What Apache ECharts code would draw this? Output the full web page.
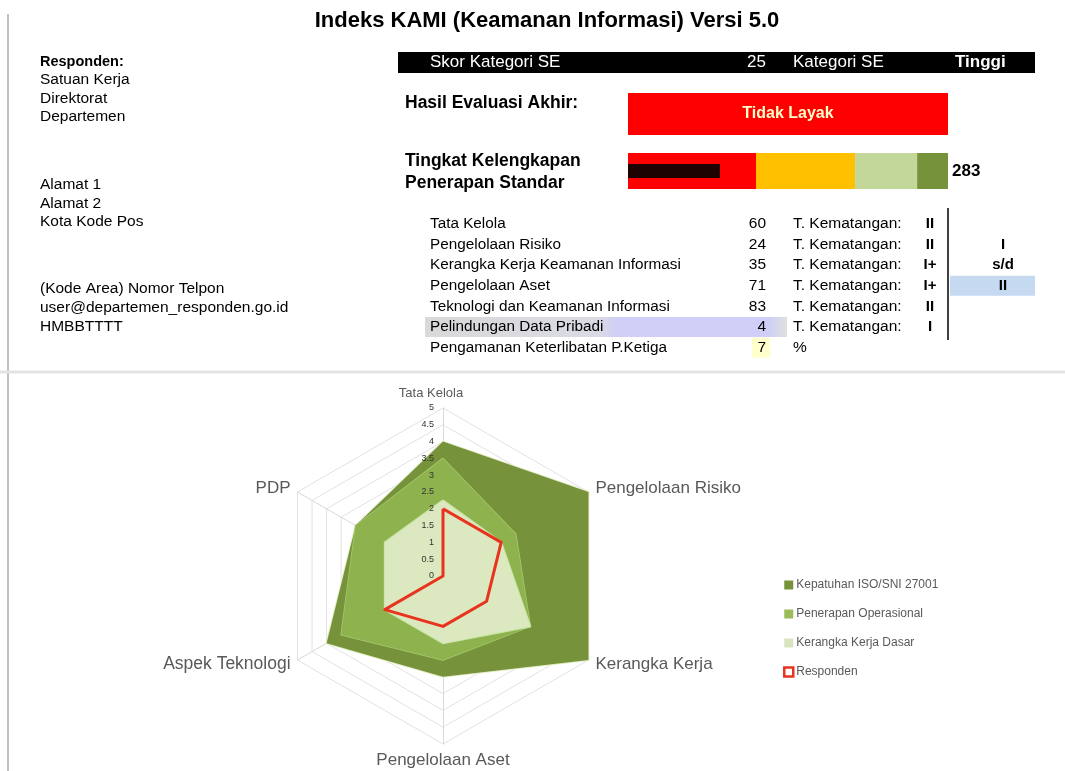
<!DOCTYPE html>
<html><head><meta charset="utf-8">
<script src="https://cdn.jsdelivr.net/npm/echarts@6/dist/echarts.min.js"></script>
<style>html,body{margin:0;padding:0;background:#fff}#c{width:1065px;height:771px}</style>
</head><body><div id="c"></div>
<script>
// ---------- data ----------
const title = 'Indeks KAMI (Keamanan Informasi) Versi 5.0';
const respondenLabel = 'Responden:';
const respondenInfo = ['Satuan Kerja', 'Direktorat', 'Departemen'];
const alamat = ['Alamat 1', 'Alamat 2', 'Kota Kode Pos'];
const kontak = ['(Kode Area) Nomor Telpon', 'user@departemen_responden.go.id', 'HMBBTTTT'];
const skorKategoriSE = 25;
const kategoriSE = 'Tinggi';
const hasilEvaluasi = 'Tidak Layak';
const skorTotal = 283;
const bandBatas = [394, 699, 890, 985];          // upper bounds of the score bands
const areaNames = ['Tata Kelola', 'Pengelolaan Risiko', 'Kerangka Kerja Keamanan Informasi', 'Pengelolaan Aset',
  'Teknologi dan Keamanan Informasi', 'Pelindungan Data Pribadi', 'Pengamanan Keterlibatan P.Ketiga'];
const areaSkor = [60, 24, 35, 71, 83, 4, 7];
const areaKematangan = ['II', 'II', 'I+', 'I+', 'II', 'I'];
const rentangKematangan = ['I', 's/d', 'II'];
const radarCategories = ['Tata Kelola', 'Pengelolaan Risiko', 'Kerangka Kerja', 'Pengelolaan Aset', 'Aspek Teknologi', 'PDP'];
const radarMax = 5;
const kepatuhanISO = [4, 5, 5, 3, 4, 3];
const penerapanOperasional = [3.5, 2.5, 3, 2.5, 3.5, 3];
const kerangkaKerjaDasar = [2.25, 2, 3, 2, 2, 2];
const responden = [2, 2, 1.5, 1.5, 2, 0];
const seriesNames = ['Kepatuhan ISO/SNI 27001', 'Penerapan Operasional', 'Kerangka Kerja Dasar', 'Responden'];

// ---------- helpers ----------
const FONT = '"Liberation Sans", Arial, sans-serif';
function T(text, x, y, o) {
  o = o || {};
  return { type: 'text', z: 10, style: {
    text: String(text), x: x, y: y,
    font: (o.bold ? 'bold ' : '') + (o.size || 14) + 'px ' + FONT,
    fill: o.color || '#000',
    align: o.align || 'left', textAlign: o.align || 'left',
    verticalAlign: 'middle', textVerticalAlign: 'middle'
  }};
}
function R(x, y, w, h, fill, z) {
  return { type: 'rect', z: z == null ? 1 : z, shape: { x: x, y: y, width: w, height: h }, style: { fill: fill } };
}
function L(x1, y1, x2, y2, color, w) {
  return { type: 'line', z: 2, shape: { x1: x1, y1: y1, x2: x2, y2: y2 }, style: { stroke: color, lineWidth: w } };
}

const g = [];
// frame lines
g.push(L(8, 14, 8, 771, '#BFBFBF', 2));
g.push(L(0, 372, 1065, 372, '#E3E3E3', 3));
// title
g.push(T(title, 547, 21, { bold: true, size: 22, align: 'center' }));
// left block
g.push(T(respondenLabel, 40, 62, { bold: true, size: 14.5 }));
respondenInfo.forEach((s, i) => g.push(T(s, 40, 80 + i * 18.5, { size: 15.5 })));
alamat.forEach((s, i) => g.push(T(s, 40, 185 + i * 18.5, { size: 15.5 })));
kontak.forEach((s, i) => g.push(T(s, 40, 289 + i * 19, { size: 15.5 })));
// black header bar
g.push(R(398, 52, 637, 21, '#000'));
g.push(T('Skor Kategori SE', 430, 62.5, { size: 17, color: '#fff' }));
g.push(T(skorKategoriSE, 766, 62.5, { size: 17, color: '#fff', align: 'right' }));
g.push(T('Kategori SE', 793, 62.5, { size: 17, color: '#fff' }));
g.push(T(kategoriSE, 955, 62.5, { size: 17, color: '#fff', bold: true }));
// evaluation
g.push(T('Hasil Evaluasi Akhir:', 405, 103, { bold: true, size: 17.5 }));
g.push(R(628, 93, 320, 42, '#FF0000'));
g.push(T(hasilEvaluasi, 788, 114, { bold: true, size: 16, color: '#FFFFCC', align: 'center' }));
g.push(T('Tingkat Kelengkapan', 405, 161, { bold: true, size: 17.5 }));
g.push(T('Penerapan Standar', 405, 183, { bold: true, size: 17.5 }));
g.push(T(skorTotal, 952, 171, { bold: true, size: 17 }));
// table
const rowY = i => 224 + i * 20.6;
g.push({ type: 'rect', z: 1, shape: { x: 425, y: rowY(5) - 10, width: 362, height: 20 },
  style: { fill: new echarts.graphic.LinearGradient(0, 0, 1, 0, [
    { offset: 0, color: '#D9D9D9' }, { offset: 0.48, color: '#DADAE4' },
    { offset: 0.53, color: '#CFCFF7' }, { offset: 0.95, color: '#CFCFF7' }, { offset: 1, color: '#E0E0E0' }]) } });
g.push(R(752, rowY(6) - 10, 18, 20, '#FFFFCC'));
g.push(R(950, rowY(3) - 10, 85, 20, '#C5D9F1'));
g.push(L(948, 208, 948, 340, '#000', 1.5));
areaNames.forEach((s, i) => {
  g.push(T(s, 430, rowY(i), { size: 15.3 }));
  g.push(T(areaSkor[i], 766, rowY(i), { size: 15.5, align: 'right' }));
  if (i < areaKematangan.length) {
    g.push(T('T. Kematangan:', 793, rowY(i), { size: 15.5 }));
    g.push(T(areaKematangan[i], 930, rowY(i), { size: 15, bold: true, align: 'center' }));
  }
});
g.push(T('%', 793, rowY(6), { size: 15.5 }));
rentangKematangan.forEach((s, i) => g.push(T(s, 1003, rowY(i + 1), { size: 15, bold: true, align: 'center' })));

// ---------- radar ordering (ECharts places indicators counter-clockwise) ----------
const order = [0, 5, 4, 3, 2, 1];
const ro = arr => order.map(i => arr[i]);
const indicators = ro(radarCategories).map((n, i) => {
  const ind = { name: n, max: radarMax, min: 0 };
  if (i === 0) ind.nameTextStyle = { fontSize: 13, padding: [0, 24, 0, 0] };
  if (n === 'Aspek Teknologi') ind.nameTextStyle = { padding: [0, 0, 0, 0], fontSize: 17.5 };
  return ind;
});
const labelIndicators = ro(radarCategories).map((n, i) => {
  const ind = { name: n, max: radarMax, min: 0 };
  if (i === 0) ind.axisLabel = { show: true, fontSize: 9, color: '#333', margin: 9, showMaxLabel: true, showMinLabel: true };
  return ind;
});

const bandColors = ['#FF0000', '#FFC000', '#C4D79B', '#76933C'];
const bandSeries = bandBatas.map((b, i) => ({
  type: 'bar', xAxisIndex: 0, yAxisIndex: 0, stack: 'band', barWidth: 36, silent: true,
  data: [b - (i ? bandBatas[i - 1] : 0)], itemStyle: { color: bandColors[i] }
}));

const radarBase = { center: [443, 576], radius: 168, shape: 'polygon', splitNumber: 10, startAngle: 90, nameGap: 8 };

const option = {
  backgroundColor: '#fff',
  animation: false,
  graphic: g,
  grid: [
    { left: 628, top: 153, width: 320, height: 36 },
    { left: 628, top: 164, width: 320, height: 14 }
  ],
  xAxis: [
    { gridIndex: 0, type: 'value', min: 0, max: bandBatas[3], show: false },
    { gridIndex: 1, type: 'value', min: 0, max: bandBatas[3], show: false }
  ],
  yAxis: [
    { gridIndex: 0, type: 'category', data: ['skor'], show: false },
    { gridIndex: 1, type: 'category', data: ['skor'], show: false }
  ],
  legend: {
    orient: 'vertical', left: 778, top: 574, itemGap: 17, itemWidth: 9, itemHeight: 9,
    textStyle: { fontSize: 12, color: '#595959', fontFamily: FONT, padding: [0, 0, 0, -2] },
    data: [
      { name: seriesNames[0], icon: 'rect', itemStyle: { color: '#76933C' } },
      { name: seriesNames[1], icon: 'rect', itemStyle: { color: '#9BBB59' } },
      { name: seriesNames[2], icon: 'rect', itemStyle: { color: '#D7E4BD' } },
      { name: seriesNames[3], icon: 'rect', itemStyle: { color: '#fff', borderColor: '#E8331F', borderWidth: 2.5 } }
    ]
  },
  radar: [
    Object.assign({}, radarBase, {
      z: 1,
      indicator: indicators,
      axisName: { color: '#595959', fontSize: 17, fontFamily: FONT },
      axisLine: { lineStyle: { color: '#D9D9D9' } },
      splitLine: { lineStyle: { color: '#E2E2E2', width: 1 } },
      splitArea: { show: false },
      axisTick: { show: false },
      axisLabel: { show: false }
    }),
    Object.assign({}, radarBase, {
      z: 4,
      indicator: labelIndicators,
      axisName: { show: false },
      axisLine: { show: false },
      splitLine: { show: false },
      splitArea: { show: false },
      axisTick: { show: false },
      axisLabel: { show: false }
    })
  ],
  series: bandSeries.concat([
    { type: 'bar', xAxisIndex: 1, yAxisIndex: 1, barWidth: 14, silent: true,
      data: [skorTotal], itemStyle: { color: '#1E0303' } },
    { type: 'radar', radarIndex: 0, z: 3, symbol: 'none', silent: true,
      data: [
        { name: seriesNames[0], value: ro(kepatuhanISO),
          areaStyle: { color: '#76933C', opacity: 1 }, lineStyle: { color: '#E6EEC8', width: 2 }, itemStyle: { color: '#76933C' } },
        { name: seriesNames[1], value: ro(penerapanOperasional),
          areaStyle: { color: '#8DB24E', opacity: 1 }, lineStyle: { color: '#A9CA70', width: 1.5 }, itemStyle: { color: '#9BBB59' } },
        { name: seriesNames[2], value: ro(kerangkaKerjaDasar),
          areaStyle: { color: '#DCE8BF', opacity: 1 }, lineStyle: { color: '#C6E6A4', width: 2 }, itemStyle: { color: '#D7E4BD' } },
        { name: seriesNames[3], value: ro(responden),
          lineStyle: { color: '#E8331F', width: 3 }, itemStyle: { color: '#E8331F' } }
      ]
    }
  ])
};
const chart = echarts.init(document.getElementById('c'));
chart.setOption(option);
</script>
</body></html>
